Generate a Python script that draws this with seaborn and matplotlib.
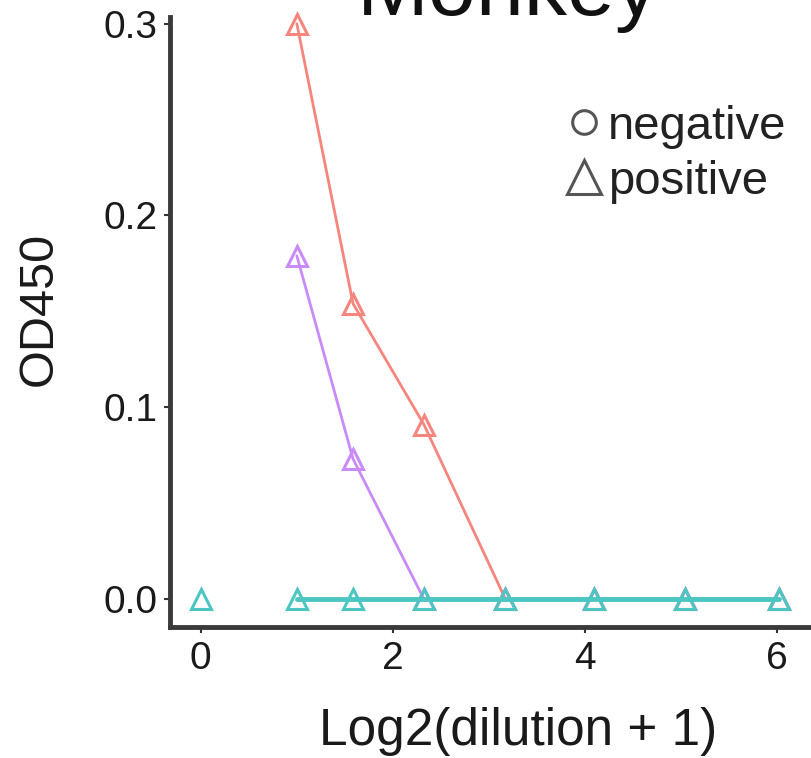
import numpy as np
import pandas as pd
import matplotlib
matplotlib.use("Agg")
import matplotlib.pyplot as plt
from matplotlib.lines import Line2D
import seaborn as sns

# ---- data ----
dilution_x = [1.0, 1.585, 2.322, 3.17, 4.087, 5.044, 6.022]
sample_red = [0.300, 0.154, 0.091, 0.0, 0.0, 0.0, 0.0]
sample_purple = [0.179, 0.073, 0.0, 0.0, 0.0, 0.0, 0.0]
sample_cyan = [0.0, 0.0, 0.0, 0.0, 0.0, 0.0, 0.0]
single_x = [0.0]
single_cyan = [0.0]
status_labels = ["negative", "positive"]

rows = []
for name, vals in [("A", sample_red), ("B", sample_purple), ("C", sample_cyan)]:
    for xv, yv in zip(dilution_x, vals):
        rows.append({"sample": name, "x": xv, "od": yv})
for xv, yv in zip(single_x, single_cyan):
    rows.append({"sample": "D", "x": xv, "od": yv})
df = pd.DataFrame(rows)

palette = {"A": "#F5857D", "B": "#C98AFA", "C": "#4CC6C1", "D": "#4CC6C1"}

sns.set_theme(style="white")
plt.rcParams['font.family'] = ['Liberation Sans', 'DejaVu Sans']

fig = plt.figure(figsize=(8.11, 7.58), dpi=100)
ax = fig.add_axes([0.2096, 0.1728, 0.7904, 0.805])

for name in ["A", "B", "C", "D"]:
    sub = df[df["sample"] == name]
    lw = 3.5 if name in ("C", "D") else 2.0
    sns.lineplot(data=sub, x="x", y="od", color=palette[name], ax=ax,
                 marker="^", markersize=15, markerfacecolor="none",
                 markeredgecolor=palette[name], markeredgewidth=2.2,
                 linewidth=lw, estimator=None, sort=False, legend=False,
                 clip_on=False)

ax.set_xlim(-0.32, 6.35)
ax.set_ylim(-0.0146, 0.3036)
ax.set_xticks([0, 2, 4, 6])
ax.set_yticks([0.0, 0.1, 0.2, 0.3])
ax.set_yticklabels(["0.0", "0.1", "0.2", "0.3"])
ax.tick_params(axis="both", labelsize=28, length=4, width=1.5, color="#333333",
               direction="out", pad=5, labelcolor="#1a1a1a", bottom=True, left=True)
ax.tick_params(axis="x", pad=6)
ax.set_xlabel("Log2(dilution + 1)", fontsize=37, color="#1a1a1a", labelpad=22)
ax.set_ylabel("OD450", fontsize=35, color="#1a1a1a", labelpad=30)
ax.xaxis.label.set_x(0.543)
ax.yaxis.label.set_y(0.521)

for s in ["top", "right"]:
    ax.spines[s].set_visible(False)
for s in ["left", "bottom"]:
    ax.spines[s].set_color("#3a3a3a")
    ax.spines[s].set_linewidth(3.5)

handles = [Line2D([], [], linestyle="none", marker="o", markersize=17,
                  markerfacecolor="none", markeredgecolor="#555555", markeredgewidth=2.2),
           Line2D([], [], linestyle="none", marker="^", markersize=24,
                  markerfacecolor="none", markeredgecolor="#555555", markeredgewidth=2.2)]
leg = ax.legend(handles, status_labels, loc="upper right", bbox_to_anchor=(0.991, 0.887),
                frameon=False, fontsize=34, handletextpad=0.0, labelspacing=0.23,
                borderaxespad=0, handlelength=1.0)
for t in leg.get_texts():
    t.set_color("#222222")

fig.text(0.6264, 0.9800, "Monkey", fontsize=62, ha="center", va="baseline", color="#111111")

fig.savefig("out.png", dpi=100)
